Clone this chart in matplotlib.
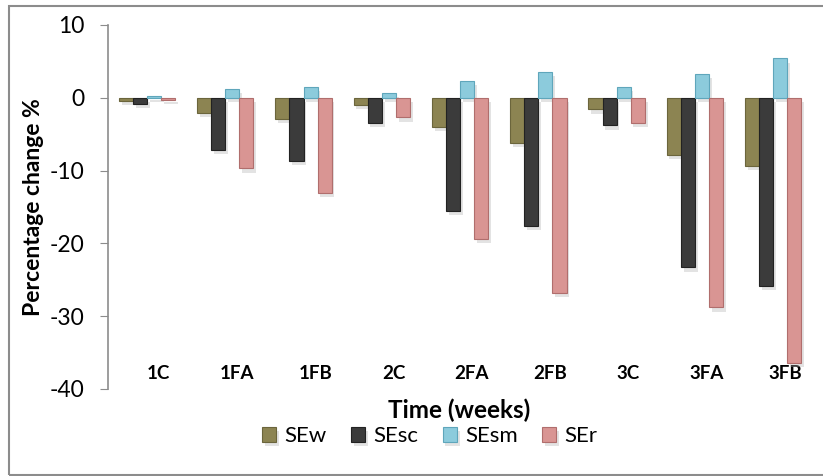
import matplotlib.pyplot as plt
import matplotlib.patheffects as pe
import numpy as np
from matplotlib.patches import Rectangle

categories = ["1C", "1FA", "1FB", "2C", "2FA", "2FB", "3C", "3FA", "3FB"]
se_w = [-0.4, -2.1, -2.9, -1.0, -4.0, -6.2, -1.6, -7.9, -9.4]
se_sc = [-0.8, -7.2, -8.7, -3.4, -15.5, -17.6, -3.8, -23.3, -25.8]
se_sm = [0.25, 1.2, 1.5, 0.65, 2.3, 3.5, 1.5, 3.3, 5.4]
se_r = [-0.25, -9.7, -13.1, -2.7, -19.4, -26.8, -3.4, -28.8, -36.4]

series = {"SEw": se_w, "SEsc": se_sc, "SEsm": se_sm, "SEr": se_r}
colors = ["#8c8452", "#3b3b3b", "#8ccbdc", "#d99593"]
edges = ["#6b653c", "#222222", "#5fa6bb", "#b06e6d"]

plt.rcParams["font.family"] = ["Lato", "DejaVu Sans"]
plt.rcParams["axes.unicode_minus"] = False

fig = plt.figure(figsize=(8.23, 4.76), dpi=100)
ax = fig.add_axes([0.131, 0.1828, 0.856, 0.7647])

x = np.arange(len(categories))
width = 0.18
shadow = [pe.SimplePatchShadow(offset=(2, -3), shadow_rgbFace="#b0b0b0", alpha=0.35),
          pe.Normal()]
for k, (name, vals) in enumerate(series.items()):
    bars = ax.bar(x + (k - 1.5) * width, vals, width, color=colors[k],
                  edgecolor=edges[k], linewidth=0.8, label=name, zorder=3)
    for b in bars:
        b.set_path_effects(shadow)

ax.set_xlim(-0.5, len(categories) - 0.5)
ax.set_ylim(-40, 10)
ax.set_yticks([10, 0, -10, -20, -30, -40])
ax.tick_params(axis="y", labelsize=16.5, length=6, color="#8c8c8c", pad=11)
ax.set_xticks(x + 0.15)
ax.set_xticklabels(categories, fontsize=13.5, fontweight="bold")
ax.tick_params(axis="x", length=0, pad=-17)

for s in ["top", "right", "bottom"]:
    ax.spines[s].set_visible(False)
ax.spines["left"].set_color("#8c8c8c")
ax.spines["left"].set_linewidth(1.2)

ax.set_ylabel("Percentage change %", fontsize=16.5, fontweight="bold", labelpad=4)
fig.text(0.558, 0.138, "Time (weeks)", fontsize=17.5, fontweight="bold",
         ha="center", va="center")

fig.legend(loc="center", bbox_to_anchor=(0.522, 0.084), ncol=4, frameon=False,
           fontsize=16, handlelength=0.65, handleheight=0.65, handletextpad=0.35,
           columnspacing=1.1)

# outer chart border
fig.patches.append(Rectangle((9 / 823, 1 / 476), 1.0, 469 / 476,
                             transform=fig.transFigure, fill=False,
                             edgecolor="#8c8c8c", linewidth=1.5))

fig.savefig("out.png", dpi=100)
